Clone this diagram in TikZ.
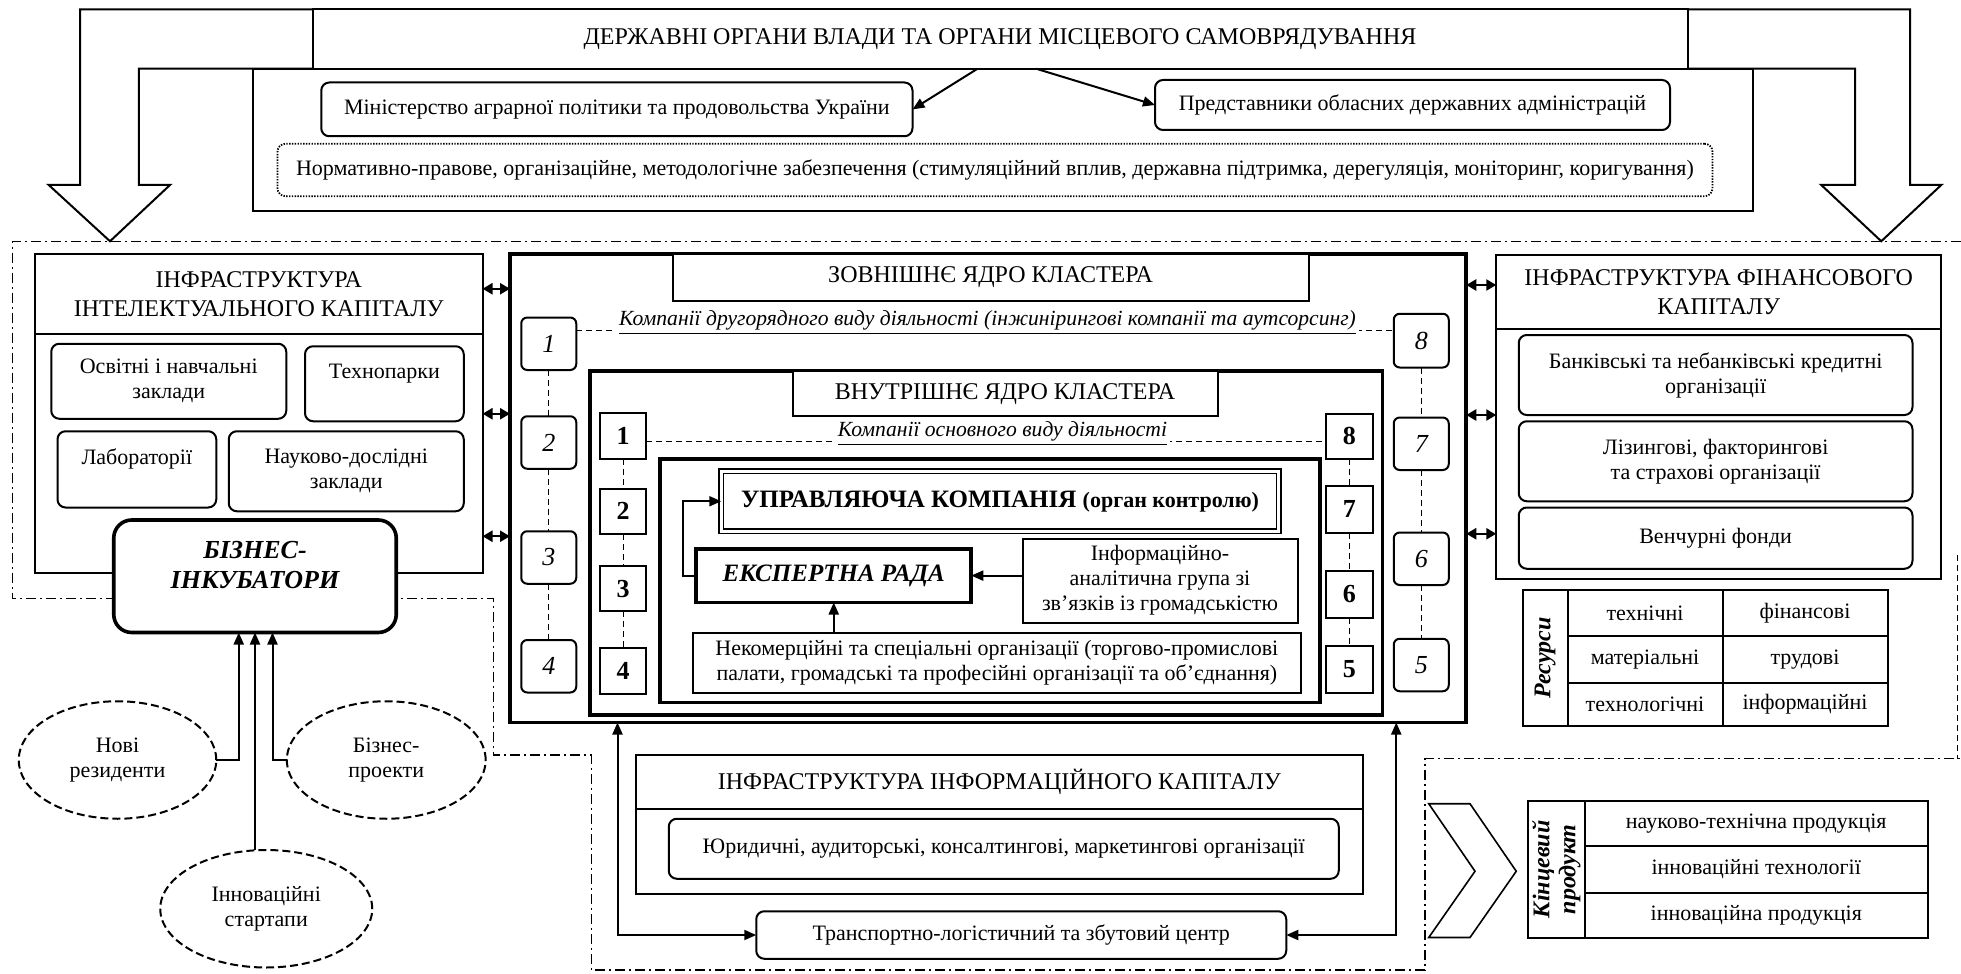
\documentclass[tikz,border=0pt]{standalone}
\usepackage{fontspec}
\setmainfont{Liberation Serif}
\usetikzlibrary{arrows.meta,shapes.geometric}
\begin{document}
\begin{tikzpicture}[x=0.625pt,y=-0.625pt,
  every node/.style={inner sep=0pt,outer sep=0pt},
  rect/.style n args={4}{minimum width={(#3-#1)*0.625pt},minimum height={(#4-#2)*0.625pt},at={({(#1+#3)/2},{(#2+#4)/2})}},
  bx/.style={draw,line width=1pt,align=center,fill=white},
  rbx/.style={bx,rounded corners=4pt},
  thk/.style={draw,line width=1.8pt,fill=white,align=center},
  bt/.style={font=\fontsize{11}{12.5}\selectfont},
  hd/.style={font=\fontsize{12}{14.5}\selectfont},
  ibx/.style={rbx,rounded corners=3pt,font=\itshape\fontsize{13}{15}\selectfont},
  bbx/.style={bx,font=\bfseries\fontsize{13}{15}\selectfont},
  ddot/.style={line width=0.7pt,dash pattern=on 5pt off 2pt on 1pt off 2pt},
  dsh/.style={line width=0.5pt,dash pattern=on 3pt off 2pt},
  arr/.style={line width=1pt,-{Triangle[length=6pt,width=5pt]}},
  arr2/.style={line width=1pt,{Triangle[length=6pt,width=5pt]}-{Triangle[length=6pt,width=5pt]}},
  dbl/.style={line width=1.2pt,{Triangle[length=5pt,width=5.5pt]}-{Triangle[length=5pt,width=5.5pt]}},
  ell/.style={draw,ellipse,line width=1pt,dash pattern=on 4pt off 2pt,align=center,font=\fontsize{11}{12.5}\selectfont},
  utext/.style={fill=white,inner sep=1.5pt,font=\itshape\fontsize{10.8}{13}\selectfont}
]
\useasboundingbox (0,0) rectangle (1568.8,779.2);

% dash-dot regions
\draw[ddot] (1568.8,193) -- (10,193) -- (10,479) -- (395,479) -- (395,604) -- (473,604) -- (473,776) -- (1140,776) -- (1140,607) -- (1568.8,607);
\draw[dsh] (1566,444) -- (1566,607);

% big bent arrow
\draw[line width=1pt,fill=white,line join=miter] (88,193) -- (39,148) -- (64,148) -- (64,7.5) -- (1528,7.5) -- (1528,148) -- (1553,148) -- (1505,193) -- (1457,148) -- (1484,148) -- (1484,55) -- (111,55) -- (111,148) -- (136,148) -- cycle;

% government block
\node[bx,hd,rect={250}{7.5}{1350}{55}] (gov) {ДЕРЖАВНІ ОРГАНИ ВЛАДИ ТА ОРГАНИ МІСЦЕВОГО САМОВРЯДУВАННЯ};
\node[bx,rect={202}{55}{1402}{169}] (govb) {};
\node[rbx,bt,rect={257}{66}{730}{109}] (min) {Міністерство аграрної політики та продовольства України};
\node[rbx,bt,rect={924}{64}{1336}{104}] (rep) {Представники обласних державних адміністрацій};
\node[draw,rounded corners=4pt,line width=0.9pt,dash pattern=on 0.7pt off 0.7pt,bt,rect={222}{115}{1370}{157}] (norm) {Нормативно-правове, організаційне, методологічне забезпечення (стимуляційний вплив, державна підтримка, дерегуляція, моніторинг, коригування)};
\coordinate (g1) at (782,55);
\coordinate (g2) at (829,55);
\draw[arr] (g1) -- (min.east);
\draw[arr] (g2) -- (rep.west);

% intellectual capital
\node[bx,hd,rect={28}{203}{386}{267}] (ich) {ІНФРАСТРУКТУРА\\ІНТЕЛЕКТУАЛЬНОГО КАПІТАЛУ};
\node[bx,rect={28}{267}{386}{458}] (icb) {};
\node[rbx,bt,rect={41}{275}{229}{335}] (edu) {Освітні і навчальні\\заклади};
\node[rbx,bt,rect={244}{277}{371}{337}] (tp) {Технопарки\\\mbox{}};
\node[rbx,bt,rect={46}{345}{173}{406}] (lab) {Лабораторії\\\mbox{}};
\node[rbx,bt,rect={183}{345}{371}{409}] (nd) {Науково-дослідні\\заклади};
\node[draw,line width=1.8pt,rounded corners=9pt,fill=white,rect={91}{416}{317}{506}] (inc) {};
\node[align=center,font=\bfseries\itshape\fontsize{13}{15}\selectfont] (inct) at (204,452) {БІЗНЕС-\\ІНКУБАТОРИ};

\node[ell,minimum width=98.75pt,minimum height=58.75pt] (nr) at (94,608) {Нові\\резиденти};
\node[ell,minimum width=99.4pt,minimum height=58.75pt] (bp) at (309,608) {Бізнес-\\проекти};
\node[ell,minimum width=106pt,minimum height=58.75pt] (st) at (213,727) {Інноваційні\\стартапи};
\coordinate (ia) at (191,0);
\coordinate (ic) at (204,0);
\coordinate (ib) at (218,0);
\draw[arr] (nr.east) -| (ia |- inc.south);
\draw[arr] (st.north -| ic) -- (ic |- inc.south);
\draw[arr] (bp.west) -| (ib |- inc.south);

% outer core
\node[thk,rect={408}{203}{1173}{578}] (oc) {};
\node[bx,hd,rect={538}{203}{1047}{241}] (octl) {ЗОВНІШНЄ ЯДРО КЛАСТЕРА};
\node[ibx,rect={417}{254}{461}{296}] (i1) {1};
\node[ibx,rect={417}{333}{461}{375}] (i2) {2};
\node[ibx,rect={417}{425}{461}{467}] (i3) {3};
\node[ibx,rect={417}{512}{461}{554}] (i4) {4};
\node[ibx,rect={1115}{251}{1159}{294}] (i8) {8};
\node[ibx,rect={1115}{334}{1159}{376}] (i7) {7};
\node[ibx,rect={1115}{426}{1159}{468}] (i6) {6};
\node[ibx,rect={1115}{511}{1159}{553}] (i5) {5};
\draw[dsh] (i1.south) -- (i2.north) (i2.south) -- (i3.north) (i3.south) -- (i4.north);
\draw[dsh] (i8.south) -- (i7.north) (i7.south) -- (i6.north) (i6.south) -- (i5.north);
\coordinate (dl1) at (0,264);
\draw[dsh] (i1.east |- dl1) -- (i8.west |- dl1);
\node[utext] (sec) at (790,258) {\underline{Компанії другорядного виду діяльності (інжинірингові компанії та аутсорсинг)}};

% inner core
\node[thk,rect={472}{297}{1106}{572}] (icr) {};
\node[bx,hd,rect={634}{297}{974}{333}] (ictl) {ВНУТРІШНЄ ЯДРО КЛАСТЕРА};
\node[bbx,rect={480}{330}{517}{367}] (b1) {1};
\node[bbx,rect={480}{391}{517}{427}] (b2) {2};
\node[bbx,rect={480}{453}{517}{489}] (b3) {3};
\node[bbx,rect={480}{518}{517}{555}] (b4) {4};
\node[bbx,rect={1061}{331}{1098}{367}] (b8) {8};
\node[bbx,rect={1061}{389}{1098}{426}] (b7) {7};
\node[bbx,rect={1061}{457}{1098}{494}] (b6) {6};
\node[bbx,rect={1061}{517}{1098}{554}] (b5) {5};
\draw[dsh] (b1.south) -- (b2.north) (b2.south) -- (b3.north) (b3.south) -- (b4.north);
\draw[dsh] (b8.south) -- (b7.north) (b7.south) -- (b6.north) (b6.south) -- (b5.north);
\coordinate (dl2) at (0,353);
\draw[dsh] (b1.east |- dl2) -- (b8.west |- dl2);
\node[utext] (mainc) at (802,347) {\underline{Компанії основного виду діяльності}};

% innermost
\node[thk,rect={528}{367}{1056}{562}] (inn) {};
\node[draw,double,double distance=1.6pt,line width=0.7pt,fill=white,rect={577}{377}{1023}{425}] (upr) {\bfseries\fontsize{12.5}{14}\selectfont УПРАВЛЯЮЧА КОМПАНІЯ \fontsize{11}{13}\selectfont(орган контролю)};
\node[thk,rect={557}{439}{777}{482},font=\bfseries\itshape\fontsize{12.5}{14}\selectfont] (exp) {ЕКСПЕРТНА РАДА};
\node[bx,bt,rect={818}{431}{1038}{498}] (inf) {Інформаційно-\\аналітична група зі\\зв’язків із громадськістю};
\node[bx,bt,rect={554}{506}{1041}{554}] (np) {Некомерційні та спеціальні організації (торгово-промислові\\палати, громадські та професійні організації та об’єднання)};
\draw[arr] (exp.east -| inf.west) -- (exp.east);
\draw[arr] (np.north -| exp.south) -- (exp.south);
\draw[arr] (exp.west) -- ++(-11,0) |- (upr.west);

% double arrows
\coordinate (yl1) at (0,231); \coordinate (yl2) at (0,331); \coordinate (yl3) at (0,429);
\coordinate (yr1) at (0,228); \coordinate (yr2) at (0,332); \coordinate (yr3) at (0,427);
\draw[dbl] (ich.east |- yl1) -- (oc.west |- yl1);
\draw[dbl] (ich.east |- yl2) -- (oc.west |- yl2);
\draw[dbl] (ich.east |- yl3) -- (oc.west |- yl3);

% financial capital
\node[bx,hd,rect={1197}{204}{1553}{263}] (fch) {ІНФРАСТРУКТУРА ФІНАНСОВОГО\\КАПІТАЛУ};
\node[bx,rect={1197}{263}{1553}{463}] (fcb) {};
\node[rbx,bt,rect={1215}{268}{1530}{332}] (bank) {Банківські та небанківські кредитні\\організації};
\node[rbx,bt,rect={1215}{337}{1530}{401}] (lease) {Лізингові, факторингові\\та страхові організації};
\node[rbx,bt,rect={1215}{406}{1530}{455}] (vent) {Венчурні фонди};
\draw[dbl] (oc.east |- yr1) -- (fch.west |- yr1);
\draw[dbl] (oc.east |- yr2) -- (fch.west |- yr2);
\draw[dbl] (oc.east |- yr3) -- (fch.west |- yr3);

% resources table
\node[bx,rect={1218}{472}{1254}{581}] (res) {};
\node[rotate=90,font=\bfseries\itshape\fontsize{12}{14}\selectfont] (rest) at (res.center) {Ресурси};
\node[bx,bt,rect={1254}{472}{1378}{509}] (r11) {технічні};
\node[bx,bt,rect={1378}{472}{1510}{509}] (r12) {фінансові};
\node[bx,bt,rect={1254}{509}{1378}{546}] (r21) {матеріальні};
\node[bx,bt,rect={1378}{509}{1510}{546}] (r22) {трудові};
\node[bx,bt,rect={1254}{546}{1378}{581}] (r31) {технологічні};
\node[bx,bt,rect={1378}{546}{1510}{581}] (r32) {інформаційні};

% information capital
\node[bx,hd,rect={509}{604}{1090}{647}] (inh) {ІНФРАСТРУКТУРА ІНФОРМАЦІЙНОГО КАПІТАЛУ};
\node[bx,rect={509}{647}{1090}{715}] (inb) {};
\node[rbx,bt,rect={535}{655}{1071}{703}] (jur) {Юридичні, аудиторські, консалтингові, маркетингові організації};
\node[rbx,bt,rect={605}{729}{1029}{767}] (tr) {Транспортно-логістичний та збутовий центр};
\coordinate (lv) at (494,0);
\coordinate (rv) at (1117,0);
\draw[arr2] (oc.south -| lv) |- (tr.west);
\draw[arr2] (oc.south -| rv) |- (tr.east);

% final product
\draw[line width=0.8pt,line join=miter] (1143,643) -- (1176,643) -- (1213,697) -- (1176,750) -- (1143,750) -- (1180,697) -- cycle;
\node[bx,rect={1222}{641}{1268}{750}] (prd) {};
\node[rotate=90,align=center,font=\bfseries\itshape\fontsize{12}{13}\selectfont] (prdt) at (prd.center) {Кінцевий\\продукт};
\node[bx,bt,rect={1268}{641}{1542}{677}] (p1) {науково-технічна продукція};
\node[bx,bt,rect={1268}{677}{1542}{714}] (p2) {інноваційні технології};
\node[bx,bt,rect={1268}{714}{1542}{750}] (p3) {інноваційна продукція};
\end{tikzpicture}
\end{document}
